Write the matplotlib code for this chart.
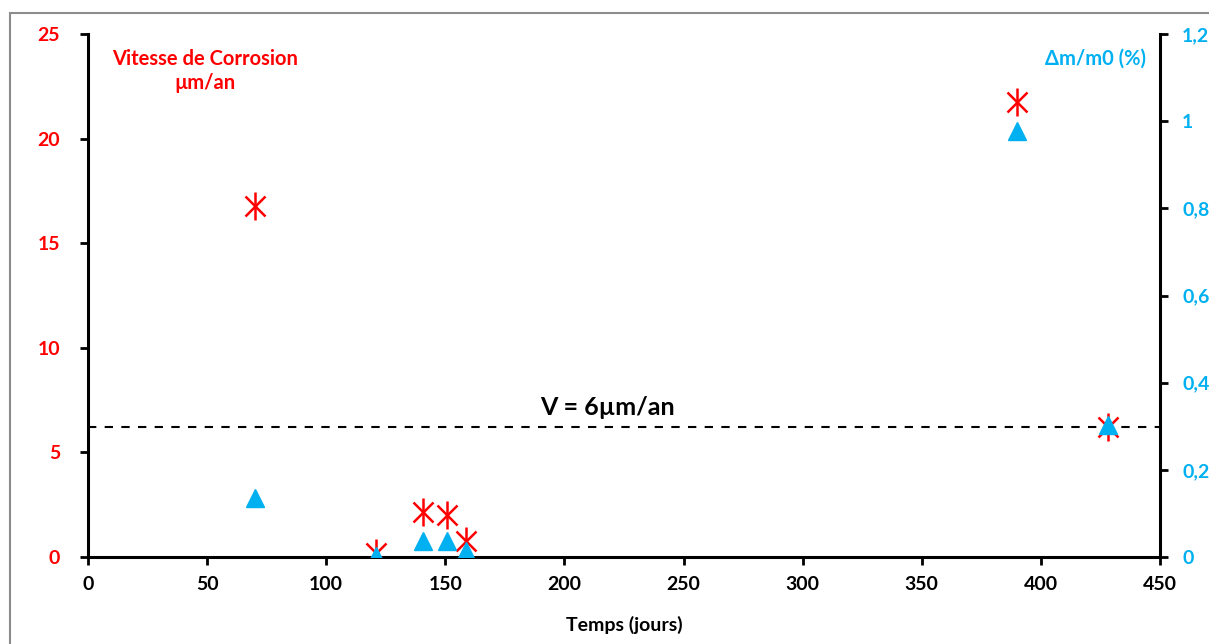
import matplotlib.pyplot as plt
from matplotlib.patches import Rectangle
from matplotlib.ticker import FuncFormatter

# Data
temps = [70, 121, 140.5, 150.5, 158.5, 390, 428]
vitesse = [16.8, 0.2, 2.15, 2.0, 0.75, 21.75, 6.2]
temps_m = [70, 121, 140.5, 150.5, 158.5, 390, 428]
delta_m = [0.135, 0.003, 0.037, 0.037, 0.013, 0.977, 0.302]
v_limite = 6.2

red = '#FF0000'
blue = '#00B0F0'

plt.rcParams['font.family'] = ['Lato', 'DejaVu Sans']
plt.rcParams['font.weight'] = 'bold'

fig = plt.figure(figsize=(12.09, 6.44), dpi=100)
# grey frame like the original screenshot
fig.patches.append(Rectangle((10 / 1209, -0.1), 1.2, (644 - 13) / 644 + 0.1,
                             transform=fig.transFigure, fill=False,
                             edgecolor='#8c8c8c', lw=1.5))

ax = fig.add_axes([88 / 1209, 87 / 644, (1160 - 88) / 1209, (557 - 34) / 644])
ax2 = ax.twinx()

ax.axhline(v_limite, color='black', ls=(0, (4, 4)), lw=1.5, zorder=1)
ax.text(218, v_limite + 0.4, 'V = 6µm/an', ha='center', va='bottom',
        fontsize=18, fontweight='bold', color='black')

ax.plot(temps, vitesse, ls='none', marker='x', ms=15, mew=1.8, color=red, zorder=3)
ax.plot(temps, vitesse, ls='none', marker='|', ms=20, mew=1.8, color=red, zorder=3)
ax2.plot(temps_m, delta_m, ls='none', marker='^', ms=13, color=blue, zorder=4)

ax.set_xlim(0, 450)
ax.set_ylim(0, 25)
ax2.set_ylim(0, 1.2)
ax.set_xticks(range(0, 451, 50))
ax.set_yticks(range(0, 26, 5))
ax2.set_yticks([0, 0.2, 0.4, 0.6, 0.8, 1.0, 1.2])
ax2.yaxis.set_major_formatter(FuncFormatter(lambda v, p: f'{v:g}'.replace('.', ',')))

for a in (ax, ax2):
    for s in a.spines.values():
        s.set_linewidth(2.2)
    a.spines['top'].set_visible(False)
ax.spines['right'].set_visible(False)
ax2.spines['left'].set_visible(False)
ax2.spines['bottom'].set_visible(False)

ax.tick_params(axis='x', direction='out', length=6, width=2, labelsize=14, pad=8)
ax.tick_params(axis='y', direction='out', length=6, width=2, labelsize=14,
               labelcolor=red, pad=14)
ax2.tick_params(axis='y', direction='out', length=6, width=2, labelsize=14,
                labelcolor=blue, pad=10)
for lab in ax.get_xticklabels() + ax.get_yticklabels() + ax2.get_yticklabels():
    lab.set_fontweight('bold')

ax.set_xlabel('Temps (jours)', fontsize=14, fontweight='bold', labelpad=16)
ax.text(49, 24.3, 'Vitesse de Corrosion\nµm/an', ha='center', va='top',
        fontsize=14.5, fontweight='bold', color=red, linespacing=1.3)
ax.text(423, 24.3, 'Δm/m0 (%)', ha='center', va='top',
        fontsize=14.5, fontweight='bold', color=blue)

fig.savefig('out.png', dpi=100)
